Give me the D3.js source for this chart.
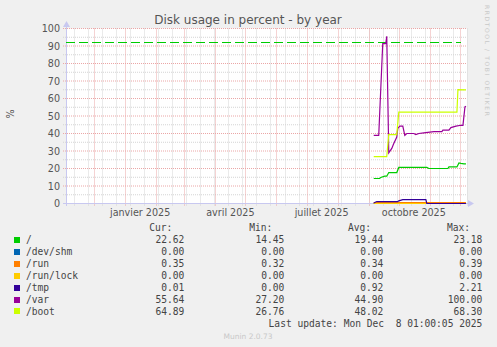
<!DOCTYPE html>
<html>
<head>
<meta charset="utf-8">
<script src="https://cdn.jsdelivr.net/npm/d3@7"></script>
<style>
body { margin: 0; background: #f0f0f0; }
svg { display: block; }
</style>
</head>
<body>
<div id="chart"></div>
<script>
// series data: [date, percent]
var rootData = [["2025-09-06",14.3],["2025-09-12",14.3],["2025-09-13",14.9],["2025-09-17",15.6],["2025-09-19",15.6],
	["2025-09-21",17.7],["2025-09-29",17.7],["2025-10-01",20.6],["2025-10-29",20.6],["2025-10-31",20.0],
	["2025-11-19",20.0],["2025-11-20",20.9],["2025-11-28",20.9],["2025-11-30",23.2],["2025-12-02",22.9],
	["2025-12-05",22.6],["2025-12-07",22.6]];
var shmData = [["2025-09-06",0],["2025-12-07",0]];
var runData = [["2025-09-06",0.35],["2025-12-07",0.35]];
var runLockData = [["2025-09-06",0],["2025-12-07",0]];
var tmpData = [["2025-09-06",0.3],["2025-09-09",1.1],["2025-09-30",1.1],["2025-10-01",1.5],["2025-10-05",2.2],
	["2025-10-28",2.2],["2025-10-29",0.01],["2025-12-07",0.01]];
var varData = [["2025-09-06",38.9],["2025-09-11",38.9],["2025-09-15",91.4],["2025-09-18",91.4],["2025-09-19",95.5],
	["2025-09-21",28.9],["2025-09-24",31.5],["2025-09-26",34.3],["2025-09-29",38],["2025-09-30",42.9],
	["2025-10-02",44.2],["2025-10-05",44.2],["2025-10-07",38.9],["2025-10-09",40],["2025-10-16",40],
	["2025-10-18",39.4],["2025-10-21",40],["2025-10-26",40.4],["2025-11-05",41.1],["2025-11-13",41.1],
	["2025-11-14",41.9],["2025-11-20",41.9],["2025-11-22",43.4],["2025-11-27",44.2],["2025-12-02",44.7],
	["2025-12-04",44.7],["2025-12-06",55.2],["2025-12-07",55.6]];
var bootData = [["2025-09-06",26.8],["2025-09-19",26.8],["2025-09-21",39.4],["2025-09-29",39.4],["2025-10-01",52.2],
	["2025-11-28",52.2],["2025-11-29",65.1],["2025-12-07",64.9]];

var seriesNames = ["/", "/dev/shm", "/run", "/run/lock", "/tmp", "/var", "/boot"];
var seriesColors = ["#00cc00", "#0066b3", "#ff8000", "#ffcc00", "#330099", "#990099", "#ccff00"];
var curVals = ["22.62", "0.00", "0.35", "0.00", "0.01", "55.64", "64.89"];
var minVals = ["14.45", "0.00", "0.32", "0.00", "0.00", "27.20", "26.76"];
var avgVals = ["19.44", "0.00", "0.34", "0.00", "0.92", "44.90", "48.02"];
var maxVals = ["23.18", "0.00", "0.39", "0.00", "2.21", "100.00", "68.30"];

var warnLevel = 92;
var yTicks = [0, 10, 20, 30, 40, 50, 60, 70, 80, 90, 100];
var xTickDates = ["2025-01-01", "2025-04-01", "2025-07-01", "2025-10-01"];
var xTickLabels = ["janvier 2025", "avril 2025", "juillet 2025", "octobre 2025"];

var parseDay = d3.timeParse("%Y-%m-%d");
var endTime = new Date(2025, 11, 8, 1, 0, 5);
var startTime = d3.timeDay.offset(endTime, -400);

var svg = d3.select("#chart").append("svg")
	.attr("width", 497)
	.attr("height", 347);

svg.append("rect").attr("width", 497).attr("height", 347).attr("fill", "#f0f0f0");

var x = d3.scaleTime().domain([startTime, endTime]).range([66, 467]);
var y = d3.scaleLinear().domain([0, 100]).range([203.5, 28.5]);

// plot canvas
svg.append("rect")
	.attr("x", 66).attr("y", 28.5)
	.attr("width", 401).attr("height", 175)
	.attr("fill", "#ffffff");

var grid = svg.append("g");
// minor grid: every 5 % and every 2 weeks
for (var v = 5; v < 100; v += 10) {
	grid.append("line")
		.attr("x1", 63).attr("x2", 467)
		.attr("y1", y(v)).attr("y2", y(v))
		.attr("stroke", "#d4d4d4").attr("stroke-dasharray", "1,1");
}
var wk = new Date(2024, 10, 11);
while (wk < endTime) {
	var xp = Math.round(x(wk)) + 0.5;
	grid.append("line")
		.attr("x1", xp).attr("x2", xp)
		.attr("y1", 28.5).attr("y2", 206)
		.attr("stroke", "#d4d4d4").attr("stroke-dasharray", "1,1");
	wk = d3.timeDay.offset(wk, 14);
}
// major grid: every 10 % and every month
yTicks.forEach(function(v) {
	grid.append("line")
		.attr("x1", 63).attr("x2", 467)
		.attr("y1", y(v)).attr("y2", y(v))
		.attr("stroke", "#eba6a6").attr("stroke-dasharray", "1,1");
});
d3.timeMonth.range(d3.timeMonth.ceil(startTime), endTime).forEach(function(m) {
	var xp = Math.round(x(m)) + 0.5;
	grid.append("line")
		.attr("x1", xp).attr("x2", xp)
		.attr("y1", 28.5).attr("y2", 206)
		.attr("stroke", "#eba6a6").attr("stroke-dasharray", "1,1");
});

// y axis labels
var yAxis = d3.axisLeft(y).tickValues(yTicks).tickSize(0).tickPadding(6);
var ya = svg.append("g").attr("transform", "translate(66,0)").call(yAxis);
ya.select(".domain").remove();
ya.selectAll("text")
	.attr("font-family", "DejaVu Sans").attr("font-size", "9.6px").attr("fill", "#555");

// x axis labels (centered inside the month, like rrdtool)
var xa = svg.append("g");
xTickDates.forEach(function(d, i) {
	xa.append("text")
		.attr("x", x(d3.timeDay.offset(parseDay(d), 15)))
		.attr("y", 216)
		.attr("text-anchor", "middle")
		.attr("font-family", "DejaVu Sans").attr("font-size", "9.6px").attr("fill", "#555")
		.text(xTickLabels[i]);
});

// axes lines with arrows
svg.append("line").attr("x1", 66.5).attr("x2", 66.5).attr("y1", 206).attr("y2", 25)
	.attr("stroke", "#c8c8f0");
svg.append("path").attr("d", "M63,27 L66.5,21 L70,27 Z").attr("fill", "#c8c8f0");
svg.append("line").attr("x1", 63).attr("x2", 470).attr("y1", 203.5).attr("y2", 203.5)
	.attr("stroke", "#c8c8f0");
svg.append("path").attr("d", "M468,200 L474,203.5 L468,207 Z").attr("fill", "#c8c8f0");

// warning line
svg.append("line")
	.attr("x1", 66).attr("x2", 461)
	.attr("y1", Math.round(y(warnLevel)) + 0.5).attr("y2", Math.round(y(warnLevel)) + 0.5)
	.attr("stroke", "#00cc00").attr("stroke-width", 1.2)
	.attr("stroke-dasharray", "9,4");

var line = d3.line()
	.x(function(d) { return x(parseDay(d[0])); })
	.y(function(d) { return y(d[1]); });

var allData = [rootData, shmData, runData, runLockData, tmpData, varData, bootData];
allData.forEach(function(data, i) {
	svg.append("path")
		.datum(data)
		.attr("d", line)
		.attr("fill", "none")
		.attr("stroke", seriesColors[i])
		.attr("stroke-width", i == 2 ? 1.6 : 1.2);
});

// title + side texts
svg.append("text")
	.attr("x", 248).attr("y", 23.5)
	.attr("text-anchor", "middle")
	.attr("font-family", "DejaVu Sans").attr("font-size", "12px").attr("fill", "#555")
	.text("Disk usage in percent - by year");

svg.append("text")
	.attr("transform", "translate(14,114) rotate(-90)")
	.attr("text-anchor", "middle")
	.attr("font-family", "DejaVu Sans").attr("font-size", "9.6px").attr("fill", "#555")
	.text("%");

svg.append("text")
	.attr("transform", "translate(485,5) rotate(90)")
	.attr("font-family", "DejaVu Sans").attr("font-size", "6px").attr("fill", "#c8c8c8")
	.attr("letter-spacing", "1.6px")
	.text("RRDTOOL / TOBI OETIKER");

// legend
var mono = "DejaVu Sans Mono";
var colRight = [184.3, 284.3, 383.3, 482.3];
var headers = ["Cur:", "Min:", "Avg:", "Max:"];
var headRight = [172.3, 272.3, 371, 470];
headers.forEach(function(h, j) {
	svg.append("text")
		.attr("x", headRight[j]).attr("y", 231)
		.attr("text-anchor", "end")
		.attr("font-family", mono).attr("font-size", "9.6px").attr("fill", "#444")
		.text(h);
});
seriesNames.forEach(function(name, i) {
	var cy = 240 + i * 11.9;
	svg.append("rect")
		.attr("x", 14).attr("y", Math.round(cy - 3))
		.attr("width", 6).attr("height", 6)
		.attr("fill", seriesColors[i]);
	svg.append("text")
		.attr("x", 26).attr("y", cy + 3.3)
		.attr("font-family", mono).attr("font-size", "9.6px").attr("fill", "#444")
		.text(name);
	[curVals, minVals, avgVals, maxVals].forEach(function(vals, j) {
		svg.append("text")
			.attr("x", colRight[j]).attr("y", cy + 3.3)
			.attr("text-anchor", "end")
			.attr("font-family", mono).attr("font-size", "9.6px").attr("fill", "#444")
			.text(vals[i]);
	});
});

svg.append("text")
	.attr("x", 482.3).attr("y", 326.6)
	.attr("text-anchor", "end")
	.attr("font-family", mono).attr("font-size", "9.6px").attr("fill", "#444")
	.attr("xml:space", "preserve").style("white-space", "pre")
	.text("Last update: Mon Dec  8 01:00:05 2025");

svg.append("text")
	.attr("x", 248).attr("y", 339)
	.attr("text-anchor", "middle")
	.attr("font-family", "DejaVu Sans").attr("font-size", "7.5px").attr("fill", "#c8c8c8")
	.text("Munin 2.0.73");
</script>
</body>
</html>
